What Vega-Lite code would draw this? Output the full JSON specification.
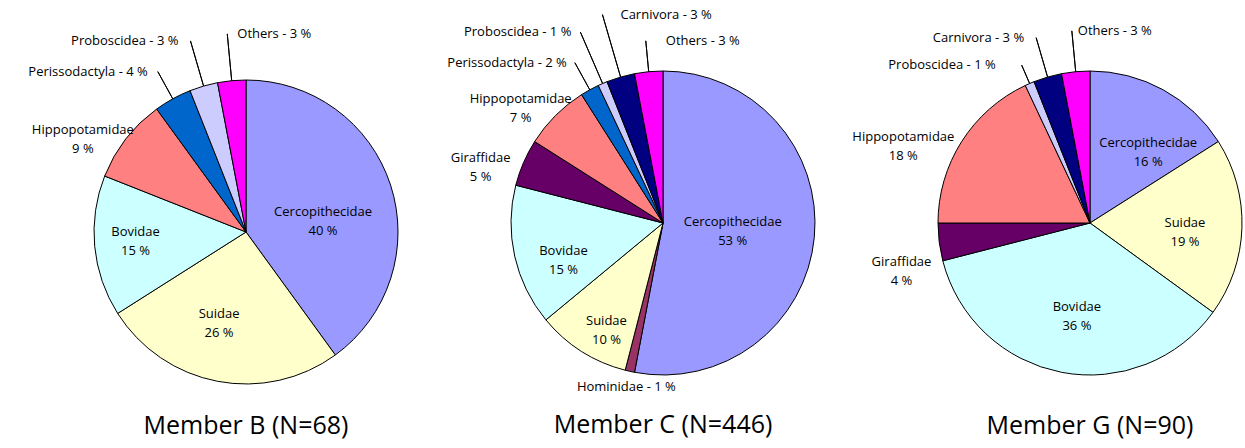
{
  "$schema": "https://vega.github.io/schema/vega-lite/v6.json",
  "background": "white",
  "padding": {"left": 28, "top": 0, "right": 0, "bottom": 0},
  "bounds": "flush",
  "spacing": 107,
  "data": {"values": [
    {"member": "B", "taxon": "Cercopithecidae", "pct": 40, "rank": 1},
    {"member": "B", "taxon": "Suidae", "pct": 26, "rank": 2},
    {"member": "B", "taxon": "Bovidae", "pct": 15, "rank": 3},
    {"member": "B", "taxon": "Hippopotamidae", "pct": 9, "rank": 4},
    {"member": "B", "taxon": "Perissodactyla", "pct": 4, "rank": 5},
    {"member": "B", "taxon": "Proboscidea", "pct": 3, "rank": 6},
    {"member": "B", "taxon": "Others", "pct": 3, "rank": 7},
    {"member": "C", "taxon": "Cercopithecidae", "pct": 53, "rank": 1},
    {"member": "C", "taxon": "Hominidae", "pct": 1, "rank": 2},
    {"member": "C", "taxon": "Suidae", "pct": 10, "rank": 3},
    {"member": "C", "taxon": "Bovidae", "pct": 15, "rank": 4},
    {"member": "C", "taxon": "Giraffidae", "pct": 5, "rank": 5},
    {"member": "C", "taxon": "Hippopotamidae", "pct": 7, "rank": 6},
    {"member": "C", "taxon": "Perissodactyla", "pct": 2, "rank": 7},
    {"member": "C", "taxon": "Proboscidea", "pct": 1, "rank": 8},
    {"member": "C", "taxon": "Carnivora", "pct": 3, "rank": 9},
    {"member": "C", "taxon": "Others", "pct": 3, "rank": 10},
    {"member": "G", "taxon": "Cercopithecidae", "pct": 16, "rank": 1},
    {"member": "G", "taxon": "Suidae", "pct": 19, "rank": 2},
    {"member": "G", "taxon": "Bovidae", "pct": 36, "rank": 3},
    {"member": "G", "taxon": "Giraffidae", "pct": 4, "rank": 4},
    {"member": "G", "taxon": "Hippopotamidae", "pct": 18, "rank": 5},
    {"member": "G", "taxon": "Proboscidea", "pct": 1, "rank": 6},
    {"member": "G", "taxon": "Carnivora", "pct": 3, "rank": 7},
    {"member": "G", "taxon": "Others", "pct": 3, "rank": 8}
  ]},
  "config": {
    "view": {"stroke": null},
    "text": {"font": "Open Sans", "fontSize": 13, "lineBreak": "\n", "lineHeight": 19, "baseline": "middle", "color": "#000"},
    "title": {"font": "Open Sans", "fontSize": 25, "fontWeight": "normal", "color": "#000"}
  },
  "hconcat": [
    {
      "width": 310, "height": 322,
      "title": {"text": "Member B (N=68)", "orient": "bottom", "frame": "group", "anchor": "middle", "offset": -26},
      "transform": [
        {"filter": "datum.member === 'B'"},
        {"calculate": "datum.taxon + '\\n' + datum.pct + ' %'", "as": "label2"},
        {"calculate": "datum.taxon + ' - ' + datum.pct + ' %'", "as": "label1"}
      ],
      "encoding": {
        "theta": {"field": "pct", "type": "quantitative", "stack": true},
        "order": {"field": "rank", "type": "quantitative"}
      },
      "layer": [
        {"mark": {"type": "arc", "outerRadius": 152, "stroke": "#000", "strokeWidth": 1},
         "encoding": {"color": {"field": "taxon", "type": "nominal", "legend": null,
           "scale": {"domain": ["Cercopithecidae","Suidae","Bovidae","Hippopotamidae","Perissodactyla","Proboscidea","Others","Giraffidae","Hominidae","Carnivora"],
                     "range": ["#9999ff","#ffffcc","#ccffff","#ff8080","#0066cc","#ccccff","#ff00ff","#660066","#993366","#000080"]}}}},
        {"mark": {"type": "arc", "innerRadius": 152, "outerRadius": 199, "padAngle": 1.4, "filled": false, "stroke": "#000", "strokeWidth": 1},
         "encoding": {"strokeOpacity": {"condition": {"test": "datum.taxon === 'Others' || datum.taxon === 'Proboscidea'", "value": 1}, "value": 0}}},
        {"mark": {"type": "arc", "innerRadius": 152, "outerRadius": 183, "padAngle": 1.4, "filled": false, "stroke": "#000", "strokeWidth": 1},
         "encoding": {"strokeOpacity": {"condition": {"test": "datum.taxon === 'Perissodactyla'", "value": 1}, "value": 0}}},
        {"mark": {"type": "text", "radius": 80, "dx": 1, "dy": 5},
         "encoding": {"text": {"condition": {"test": "datum.taxon === 'Cercopithecidae'", "field": "label2"}, "value": ""}}},
        {"mark": {"type": "text", "radius": 85, "dx": -11, "dy": -1},
         "encoding": {"text": {"condition": {"test": "datum.taxon === 'Suidae'", "field": "label2"}, "value": ""}}},
        {"mark": {"type": "text", "radius": 111, "dx": 0, "dy": -10},
         "encoding": {"text": {"condition": {"test": "datum.taxon === 'Bovidae'", "field": "label2"}, "value": ""}}},
        {"mark": {"type": "text", "radius": 190, "dx": -13, "dy": 14},
         "encoding": {"text": {"condition": {"test": "datum.taxon === 'Hippopotamidae'", "field": "label2"}, "value": ""}}},
        {"mark": {"type": "text", "radius": 199, "dx": 10, "align": "left"},
         "encoding": {"text": {"condition": {"test": "datum.taxon === 'Others'", "field": "label1"}, "value": ""}}},
        {"mark": {"type": "text", "radius": 199, "dx": -12, "align": "right"},
         "encoding": {"text": {"condition": {"test": "datum.taxon === 'Proboscidea'", "field": "label1"}, "value": ""}}},
        {"mark": {"type": "text", "radius": 183, "dx": -10, "align": "right"},
         "encoding": {"text": {"condition": {"test": "datum.taxon === 'Perissodactyla'", "field": "label1"}, "value": ""}}}
      ]
    },
    {
      "width": 310, "height": 304,
      "title": {"text": "Member C (N=446)", "orient": "bottom", "frame": "group", "anchor": "middle", "offset": -29},
      "transform": [
        {"filter": "datum.member === 'C'"},
        {"calculate": "datum.taxon + '\\n' + datum.pct + ' %'", "as": "label2"},
        {"calculate": "datum.taxon + ' - ' + datum.pct + ' %'", "as": "label1"}
      ],
      "encoding": {
        "theta": {"field": "pct", "type": "quantitative", "stack": true},
        "order": {"field": "rank", "type": "quantitative"}
      },
      "layer": [
        {"mark": {"type": "arc", "outerRadius": 152, "stroke": "#000", "strokeWidth": 1},
         "encoding": {"color": {"field": "taxon", "type": "nominal", "legend": null,
           "scale": {"domain": ["Cercopithecidae","Suidae","Bovidae","Hippopotamidae","Perissodactyla","Proboscidea","Others","Giraffidae","Hominidae","Carnivora"],
                     "range": ["#9999ff","#ffffcc","#ccffff","#ff8080","#0066cc","#ccccff","#ff00ff","#660066","#993366","#000080"]}}}},
        {"mark": {"type": "arc", "innerRadius": 152, "outerRadius": 183, "padAngle": 1.4, "filled": false, "stroke": "#000", "strokeWidth": 1},
         "encoding": {"strokeOpacity": {"condition": {"test": "datum.taxon === 'Perissodactyla' || datum.taxon === 'Others'", "value": 1}, "value": 0}}},
        {"mark": {"type": "arc", "innerRadius": 152, "outerRadius": 208, "padAngle": 1.4, "filled": false, "stroke": "#000", "strokeWidth": 1},
         "encoding": {"strokeOpacity": {"condition": {"test": "datum.taxon === 'Proboscidea'", "value": 1}, "value": 0}}},
        {"mark": {"type": "arc", "innerRadius": 152, "outerRadius": 217, "padAngle": 1.4, "filled": false, "stroke": "#000", "strokeWidth": 1},
         "encoding": {"strokeOpacity": {"condition": {"test": "datum.taxon === 'Carnivora'", "value": 1}, "value": 0}}},
        {"mark": {"type": "text", "radius": 70, "dy": -8},
         "encoding": {"text": {"condition": {"test": "datum.taxon === 'Cercopithecidae'", "field": "label2"}, "value": ""}}},
        {"mark": {"type": "text", "radius": 113, "dx": 4, "dy": 3},
         "encoding": {"text": {"condition": {"test": "datum.taxon === 'Suidae'", "field": "label2"}, "value": ""}}},
        {"mark": {"type": "text", "radius": 102, "dy": 6},
         "encoding": {"text": {"condition": {"test": "datum.taxon === 'Bovidae'", "field": "label2"}, "value": ""}}},
        {"mark": {"type": "text", "radius": 190, "dx": -8, "dy": 10},
         "encoding": {"text": {"condition": {"test": "datum.taxon === 'Giraffidae' || datum.taxon === 'Hippopotamidae'", "field": "label2"}, "value": ""}}},
        {"mark": {"type": "text", "radius": 168},
         "encoding": {"text": {"condition": {"test": "datum.taxon === 'Hominidae'", "field": "label1"}, "value": ""}}},
        {"mark": {"type": "text", "radius": 183, "dx": -8, "align": "right"},
         "encoding": {"text": {"condition": {"test": "datum.taxon === 'Perissodactyla'", "field": "label1"}, "value": ""}}},
        {"mark": {"type": "text", "radius": 208, "dx": -9, "align": "right"},
         "encoding": {"text": {"condition": {"test": "datum.taxon === 'Proboscidea'", "field": "label1"}, "value": ""}}},
        {"mark": {"type": "text", "radius": 217, "dx": 18, "align": "left"},
         "encoding": {"text": {"condition": {"test": "datum.taxon === 'Carnivora'", "field": "label1"}, "value": ""}}},
        {"mark": {"type": "text", "radius": 183, "dx": 20, "align": "left"},
         "encoding": {"text": {"condition": {"test": "datum.taxon === 'Others'", "field": "label1"}, "value": ""}}}
      ]
    },
    {
      "width": 330, "height": 304,
      "title": {"text": "Member G (N=90)", "orient": "bottom", "frame": "group", "anchor": "middle", "offset": -26},
      "transform": [
        {"filter": "datum.member === 'G'"},
        {"calculate": "datum.taxon + '\\n' + datum.pct + ' %'", "as": "label2"},
        {"calculate": "datum.taxon + ' - ' + datum.pct + ' %'", "as": "label1"}
      ],
      "encoding": {
        "theta": {"field": "pct", "type": "quantitative", "stack": true},
        "order": {"field": "rank", "type": "quantitative"}
      },
      "layer": [
        {"mark": {"type": "arc", "outerRadius": 152, "stroke": "#000", "strokeWidth": 1},
         "encoding": {"color": {"field": "taxon", "type": "nominal", "legend": null,
           "scale": {"domain": ["Cercopithecidae","Suidae","Bovidae","Hippopotamidae","Perissodactyla","Proboscidea","Others","Giraffidae","Hominidae","Carnivora"],
                     "range": ["#9999ff","#ffffcc","#ccffff","#ff8080","#0066cc","#ccccff","#ff00ff","#660066","#993366","#000080"]}}}},
        {"mark": {"type": "arc", "innerRadius": 152, "outerRadius": 172, "padAngle": 1.4, "filled": false, "stroke": "#000", "strokeWidth": 1},
         "encoding": {"strokeOpacity": {"condition": {"test": "datum.taxon === 'Proboscidea'", "value": 1}, "value": 0}}},
        {"mark": {"type": "arc", "innerRadius": 152, "outerRadius": 193, "padAngle": 1.4, "filled": false, "stroke": "#000", "strokeWidth": 1},
         "encoding": {"strokeOpacity": {"condition": {"test": "datum.taxon === 'Carnivora' || datum.taxon === 'Others'", "value": 1}, "value": 0}}},
        {"mark": {"type": "text", "radius": 100, "dx": 10, "dy": 8},
         "encoding": {"text": {"condition": {"test": "datum.taxon === 'Cercopithecidae'", "field": "label2"}, "value": ""}}},
        {"mark": {"type": "text", "radius": 95, "dy": -3},
         "encoding": {"text": {"condition": {"test": "datum.taxon === 'Suidae'", "field": "label2"}, "value": ""}}},
        {"mark": {"type": "text", "radius": 86, "dx": 3},
         "encoding": {"text": {"condition": {"test": "datum.taxon === 'Bovidae'", "field": "label2"}, "value": ""}}},
        {"mark": {"type": "text", "radius": 195, "dx": -22, "dy": 18},
         "encoding": {"text": {"condition": {"test": "datum.taxon === 'Hippopotamidae'", "field": "label2"}, "value": ""}}},
        {"mark": {"type": "text", "radius": 190, "dy": 15},
         "encoding": {"text": {"condition": {"test": "datum.taxon === 'Giraffidae'", "field": "label2"}, "value": ""}}},
        {"mark": {"type": "text", "radius": 172, "dx": -26, "align": "right"},
         "encoding": {"text": {"condition": {"test": "datum.taxon === 'Proboscidea'", "field": "label1"}, "value": ""}}},
        {"mark": {"type": "text", "radius": 193, "dx": -12, "align": "right"},
         "encoding": {"text": {"condition": {"test": "datum.taxon === 'Carnivora'", "field": "label1"}, "value": ""}}},
        {"mark": {"type": "text", "radius": 193, "dx": 6, "align": "left"},
         "encoding": {"text": {"condition": {"test": "datum.taxon === 'Others'", "field": "label1"}, "value": ""}}}
      ]
    }
  ]
}
